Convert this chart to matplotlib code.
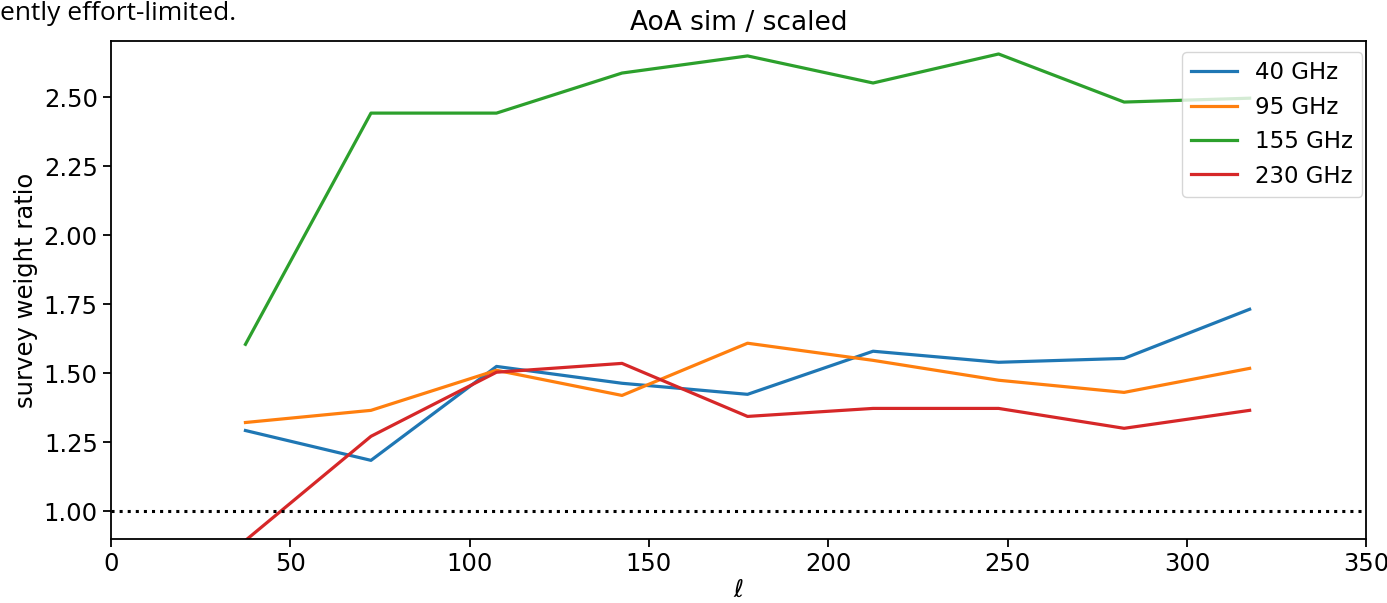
import numpy as np
import matplotlib
matplotlib.use("Agg")
import matplotlib.pyplot as plt

# bin centres in ell
ell = [37.5, 72.5, 107.5, 142.5, 177.5, 212.5, 247.5, 282.5, 317.5]

ratio_40 = [1.293, 1.185, 1.525, 1.464, 1.424, 1.580, 1.540, 1.554, 1.732]
ratio_95 = [1.322, 1.366, 1.511, 1.420, 1.609, 1.547, 1.475, 1.431, 1.518]
ratio_155 = [1.605, 2.442, 2.442, 2.587, 2.649, 2.551, 2.656, 2.482, 2.496]
ratio_230 = [0.895, 1.272, 1.504, 1.536, 1.344, 1.373, 1.373, 1.301, 1.366]

labels = ['40 GHz', '95 GHz', '155 GHz', '230 GHz']

fs = 17.5

fig = plt.figure(figsize=(13.87, 6.03), dpi=100)
ax = fig.add_axes([0.080, 0.106, 0.905, 0.826])

for vals, lab in zip([ratio_40, ratio_95, ratio_155, ratio_230], labels):
    ax.plot(ell, vals, lw=2.3, label=lab)

ax.axhline(1.0, color='k', ls=':', lw=2.2)

ax.set_xlim(0, 350)
ax.set_ylim(0.9, 2.703)
ax.set_yticks([1.0, 1.25, 1.5, 1.75, 2.0, 2.25, 2.5])
ax.yaxis.set_major_formatter(matplotlib.ticker.FormatStrFormatter('%.2f'))
ax.tick_params(labelsize=fs, length=6, width=1.3)
for s in ax.spines.values():
    s.set_linewidth(1.3)

ax.set_xlabel(r'$\ell$', fontsize=fs, labelpad=1)
ax.set_ylabel('survey weight ratio', fontsize=fs)
ax.set_title('AoA sim / scaled', fontsize=19, pad=8)
ax.legend(loc='upper right', fontsize=16.5, handlelength=2.0,
          bbox_to_anchor=(0.997, 0.978), borderaxespad=0.0)

fig.text(0.0, 0.999, 'ently effort-limited.', fontsize=19, va='top',
         family='Open Sans')

fig.savefig('out.png', dpi=100)
